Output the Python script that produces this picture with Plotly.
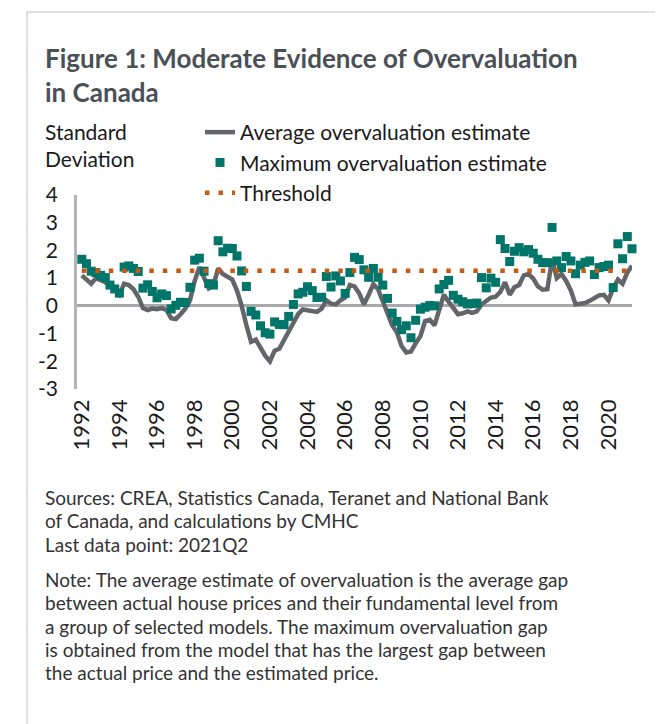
import plotly.graph_objects as go

# ---------------- data (quarterly, 1992Q1 .. 2021Q2) ----------------
start_year = 1992
avg_estimate = [
    1.1, 0.96, 0.8, 1.0, 0.93, 0.85, 0.73, 0.57, 0.4, 0.8,
    0.75, 0.6, 0.33, -0.08, -0.15, -0.1, -0.12, -0.08, -0.15, -0.45,
    -0.48, -0.3, -0.1, 0.2, 0.9, 1.4, 1.0, 0.63, 0.75, 1.35,
    1.15, 1.05, 0.95, 0.55, 0.0, -0.7, -1.3, -1.22, -1.55, -1.8,
    -2.0, -1.62, -1.55, -1.25, -0.95, -0.6, -0.3, -0.13, -0.15, -0.2,
    -0.22, -0.1, 0.2, 0.08, 0.05, 0.2, 0.3, 0.75, 0.7, 0.45,
    0.05, 0.4, 0.78, 0.6, 0.15, -0.2, -0.7, -0.95, -1.45, -1.68,
    -1.65, -1.35, -1.1, -0.55, -0.5, -0.7, -0.15, 0.4, 0.15, -0.1,
    -0.3, -0.27, -0.2, -0.25, -0.2, 0.05, 0.2, 0.3, 0.33, 0.5,
    0.85, 0.4, 0.67, 0.75, 1.1, 1.15, 0.98, 0.7, 0.58, 0.6,
    1.68, 1.0, 1.15, 0.9, 0.55, 0.05, 0.08, 0.1, 0.18, 0.3,
    0.38, 0.4, 0.2, 0.65, 0.95, 0.8, 1.2, 1.45,
]
max_estimate = [
    1.68, 1.52, 1.25, 1.2, 1.1, 1.02, 0.75, 0.61, 0.46, 1.40,
    1.44, 1.35, 1.24, 0.64, 0.76, 0.52, 0.29, 0.43, 0.37, -0.11,
    0.02, 0.13, 0.12, 0.67, 1.65, 1.72, 1.25, 0.8, 0.75, 2.35,
    1.95, 2.08, 2.07, 1.8, 1.26, 0.70, -0.2, -0.33, -0.72, -0.97,
    -1.02, -0.58, -0.67, -0.68, -0.38, 0.05, 0.43, 0.49, 0.69, 0.55,
    0.3, 0.31, 1.06, 0.68, 1.08, 0.9, 0.45, 1.2, 1.75, 1.67,
    1.3, 1.03, 1.35, 1.03, 0.75, 0.27, -0.26, -0.56, -0.86, -0.72,
    -1.15, -0.52, -0.12, -0.05, 0.01, 0.0, 0.61, 0.77, 0.92, 0.38,
    0.24, 0.15, 0.07, 0.08, 0.1, 1.02, 0.65, 1.0, 0.85, 2.39,
    2.07, 1.6, 1.97, 2.1, 1.95, 2.03, 1.9, 1.68, 1.56, 1.56,
    2.83, 1.62, 1.38, 1.78, 1.62, 1.16, 1.47, 1.57, 1.62, 1.13,
    1.38, 1.42, 1.47, 0.66, 2.24, 1.7, 2.5, 2.06,
]
threshold_value = 1.27
tick_years = list(range(1992, 2021, 2))
y_ticks = [4, 3, 2, 1, 0, -1, -2, -3]

n = len(avg_estimate)
x_q = [start_year + i / 4 for i in range(n)]
threshold = [threshold_value] * n

# ---------------- geometry helpers ----------------
OFF = 8  # default page body margin
W, H = 663 - OFF, 724 - OFF
L, R, T, B = 77, 632, 195, 389  # plot area in page pixels


def px(xp):
    return (xp - L) / (R - L)


def py(yp):
    return (B - yp) / (B - T)


fig = go.Figure()
fig.add_trace(go.Scatter(
    x=x_q, y=avg_estimate, mode="lines", name="Average overvaluation estimate",
    line=dict(color="#646569", width=4.5), cliponaxis=False,
))
fig.add_trace(go.Scatter(
    x=x_q, y=max_estimate, mode="markers", name="Maximum overvaluation estimate",
    marker=dict(symbol="square", size=9, color="#00756a"), cliponaxis=False,
))
fig.add_trace(go.Scatter(
    x=x_q, y=threshold, mode="lines", name="Threshold",
    line=dict(color="#c55a11", width=4.5, dash="4.5px,9px"), cliponaxis=False,
))

FONT = "Lato"
TXT = "#1a1a1a"

fig.update_layout(
    width=W, height=H,
    margin=dict(l=L - OFF, r=W - (R - OFF), t=T - OFF, b=H - (B - OFF)),
    paper_bgcolor="white", plot_bgcolor="white",
    font=dict(family=FONT, size=21, color=TXT),
    showlegend=True,
    legend=dict(
        x=px(200), y=py(112), xanchor="left", yanchor="top",
        font=dict(family=FONT, size=21, color=TXT),
        bgcolor="rgba(0,0,0,0)", borderwidth=0,
        tracegroupgap=0, itemwidth=30,
    ),
    xaxis=dict(
        range=[start_year - 0.255, start_year + (n - 1) / 4],
        tickvals=tick_years, ticktext=[str(t) for t in tick_years],
        tickangle=-90, showgrid=False, zeroline=False, showline=False,
        ticks="", ticklabelstandoff=5,
        tickfont=dict(family=FONT, size=22, color=TXT),
    ),
    yaxis=dict(
        range=[-3, 4], tickvals=y_ticks, ticktext=[str(t) for t in y_ticks],
        showgrid=False, zeroline=True, zerolinecolor="#a9a9ab", zerolinewidth=3,
        showline=True, linecolor="#b4b4b6", linewidth=2.5, ticks="",
        ticklabelstandoff=12,
        tickfont=dict(family=FONT, size=21, color=TXT),
    ),
)

ann = []
# title
for text, yp in [("Figure 1: Moderate Evidence of Overvaluation", 58),
                 ("in Canada", 92)]:
    ann.append(dict(text="<b>" + text + "</b>", x=px(43), y=py(yp), xref="paper", yref="paper",
                    xanchor="left", yanchor="middle", showarrow=False,
                    font=dict(family=FONT, size=26, color="#4b5057")))
# y axis title
for text, yp in [("Standard", 131), ("Deviation", 158)]:
    ann.append(dict(text=text, x=px(43), y=py(yp), xref="paper", yref="paper",
                    xanchor="left", yanchor="middle", showarrow=False,
                    font=dict(family=FONT, size=21, color=TXT)))
# notes
notes = [
    ("Sources: CREA, Statistics Canada, Teranet and National Bank", 497),
    ("of Canada, and calculations by CMHC", 520),
    ("Last data point: 2021Q2", 544),
    ("Note: The average estimate of overvaluation is the average gap", 579),
    ("between actual house prices and their fundamental level from", 602),
    ("a group of selected models. The maximum overvaluation gap", 626),
    ("is obtained from the model that has the largest gap between", 649),
    ("the actual price and the estimated price.", 672),
]
for text, yp in notes:
    ann.append(dict(text=text, x=px(43), y=py(yp), xref="paper", yref="paper",
                    xanchor="left", yanchor="middle", showarrow=False,
                    font=dict(family=FONT, size=19, color="#333333")))
fig.update_layout(annotations=ann)

# outer frame
fig.add_shape(type="rect", xref="paper", yref="paper",
              x0=px(27), x1=px(660), y0=py(740), y1=py(12),
              line=dict(color="#c3c3c3", width=1), layer="below")

fig.write_html("out.html")
